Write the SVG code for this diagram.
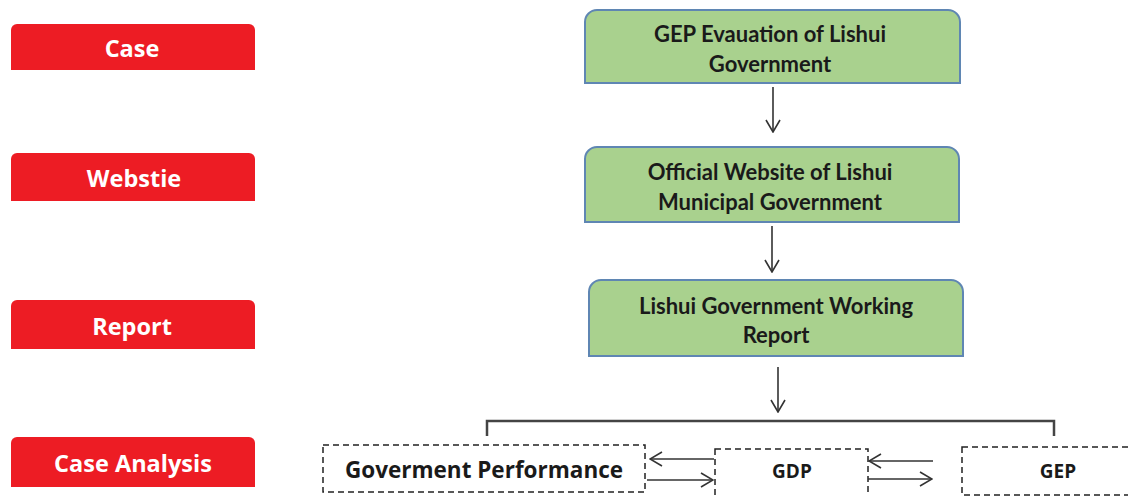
<svg xmlns="http://www.w3.org/2000/svg" width="1128" height="496" viewBox="0 0 1128 496">
  <defs>
    <style>
      .tab { fill: #ed1c24; }
      .tab-label { font-family: "Open Sans", Lato, "Liberation Sans", sans-serif; font-weight: 700; font-size: 23.5px; fill: #ffffff; text-anchor: middle; }
      .step { fill: #a9d18e; stroke: #5f86b3; stroke-width: 2; }
      .step-label { font-family: Lato, "Open Sans", "Liberation Sans", sans-serif; font-weight: 700; font-size: 22px; fill: #1a1a1a; text-anchor: middle; }
      .item { fill: #ffffff; stroke: #222222; stroke-width: 1.5; stroke-dasharray: 6 4; }
      .item-label { font-family: "Open Sans", Lato, "Liberation Sans", sans-serif; font-weight: 700; fill: #1a1a1a; text-anchor: middle; }
      .wire { fill: none; stroke: #333333; stroke-width: 1.6; }
      .bracket { fill: none; stroke: #444444; stroke-width: 2.5; }
    </style>
    <marker id="open-arrow" viewBox="0 0 14 16" refX="13" refY="8" markerWidth="14" markerHeight="16" markerUnits="userSpaceOnUse" orient="auto">
      <path d="M1,1 L13,8 L1,15" fill="none" stroke="#333333" stroke-width="1.6"/>
    </marker>
  </defs>

  <!-- Left column: category tabs -->
  <g id="tab-case">
    <path class="tab" d="M11,70 V30 A6,6 0 0 1 17,24 H249 A6,6 0 0 1 255,30 V70 Z"/>
    <text class="tab-label" x="132" y="57">Case</text>
  </g>
  <g id="tab-website">
    <path class="tab" d="M11,201 V159 A6,6 0 0 1 17,153 H249 A6,6 0 0 1 255,159 V201 Z"/>
    <text class="tab-label" x="134" y="187">Webstie</text>
  </g>
  <g id="tab-report">
    <path class="tab" d="M11,349 V306 A6,6 0 0 1 17,300 H249 A6,6 0 0 1 255,306 V349 Z"/>
    <text class="tab-label" x="132" y="335">Report</text>
  </g>
  <g id="tab-analysis">
    <path class="tab" d="M11,487 V443 A6,6 0 0 1 17,437 H249 A6,6 0 0 1 255,443 V487 Z"/>
    <text class="tab-label" x="133" y="472">Case Analysis</text>
  </g>

  <!-- Right column: source chain -->
  <g id="step-gep-evaluation">
    <path class="step" d="M585,83 V22 A12,12 0 0 1 597,10 H948 A12,12 0 0 1 960,22 V83 Z"/>
    <text class="step-label" x="770" y="42">GEP Evauation of Lishui</text>
    <text class="step-label" x="770" y="72">Government</text>
  </g>
  <g id="step-official-website">
    <path class="step" d="M585,222 V159 A12,12 0 0 1 597,147 H947 A12,12 0 0 1 959,159 V222 Z"/>
    <text class="step-label" x="770" y="180">Official Website of Lishui</text>
    <text class="step-label" x="770" y="210">Municipal Government</text>
  </g>
  <g id="step-working-report">
    <path class="step" d="M589,356 V292 A12,12 0 0 1 601,280 H951 A12,12 0 0 1 963,292 V356 Z"/>
    <text class="step-label" x="776" y="314">Lishui Government Working</text>
    <text class="step-label" x="776" y="343">Report</text>
  </g>

  <!-- Bottom row: analysis items -->
  <g id="item-performance">
    <rect class="item" x="323" y="445" width="322" height="47"/>
    <text class="item-label" x="484" y="478" font-size="22.5">Goverment Performance</text>
  </g>
  <g id="item-gdp">
    <rect class="item" x="715" y="449" width="153" height="60"/>
    <text class="item-label" x="792" y="478" font-size="19" font-weight="600">GDP</text>
  </g>
  <g id="item-gep">
    <rect class="item" x="962" y="447" width="180" height="48"/>
    <text class="item-label" x="1058" y="478" font-size="19" font-weight="600">GEP</text>
  </g>

  <!-- Connectors -->
  <g id="connectors">
    <line class="wire" x1="773" y1="87" x2="773" y2="132" marker-end="url(#open-arrow)"/>
    <line class="wire" x1="772" y1="226" x2="772" y2="272" marker-end="url(#open-arrow)"/>
    <line class="wire" x1="778" y1="367" x2="778" y2="412" marker-end="url(#open-arrow)"/>
    <path class="bracket" d="M487,436 V421 H1054 V436"/>
    <line class="wire" x1="714" y1="459" x2="650" y2="459" marker-end="url(#open-arrow)"/>
    <line class="wire" x1="647" y1="480" x2="713" y2="480" marker-end="url(#open-arrow)"/>
    <line class="wire" x1="933" y1="461" x2="869" y2="461" marker-end="url(#open-arrow)"/>
    <line class="wire" x1="868" y1="479" x2="932" y2="479" marker-end="url(#open-arrow)"/>
  </g>
</svg>
